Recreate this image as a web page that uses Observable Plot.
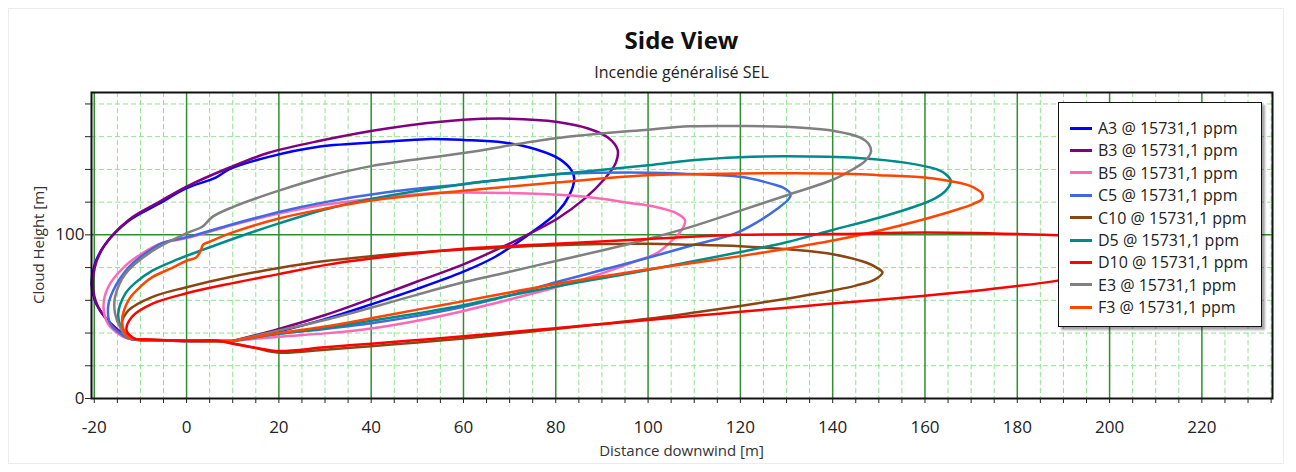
<!DOCTYPE html>
<html>
<head>
<meta charset="utf-8">
<script src="https://cdn.jsdelivr.net/npm/d3@7"></script>
<script src="https://cdn.jsdelivr.net/npm/@observablehq/plot@0.6"></script>
<style>
  html, body { margin: 0; padding: 0; background: #ffffff; }
  #wrap { position: relative; width: 1296px; height: 472px; font-family: "Open Sans", "Noto Sans", sans-serif; color: #222; overflow: hidden; }
  #panel { position: absolute; left: 8px; top: 8px; width: 1276px; height: 456px; border: 1px solid #ececec; box-sizing: border-box; }
  #chart { position: absolute; left: 0; top: 0; }
  .ttl { position: absolute; left: 91px; width: 1181px; text-align: center; white-space: nowrap; }
  #title { top: 26px; font-size: 24px; line-height: 28px; font-weight: 700; color: #111; }
  #subtitle { top: 62px; font-size: 16px; line-height: 20px; color: #222; }
  #xlabel { top: 440px; font-size: 15px; line-height: 20px; color: #333; }
  #ylabel { position: absolute; left: -62px; top: 235px; width: 200px; height: 20px; line-height: 20px; font-size: 15px; text-align: center; transform: rotate(-90deg); transform-origin: 50% 50%; color: #333; white-space: nowrap; }
  #legend { position: absolute; left: 1058px; top: 102px; width: 204px; height: 225px; box-sizing: border-box; border: 1.5px solid #111; background: #fff; box-shadow: 3px 3px 2px rgba(0,0,0,0.35); }
  .row { position: absolute; left: 0; height: 22px; line-height: 22px; font-size: 16px; color: #222; white-space: nowrap; }
  .sw { position: absolute; left: 11px; top: 9.5px; width: 22px; height: 3px; }
  .lt { position: absolute; left: 39px; top: 0; }
</style>
</head>
<body>
<div id="wrap">
  <div id="panel"></div>
  <div id="chart"></div>
  <div id="title" class="ttl">Side View</div>
  <div id="subtitle" class="ttl">Incendie généralisé SEL</div>
  <div id="xlabel" class="ttl">Distance downwind [m]</div>
  <div id="ylabel">Cloud Height [m]</div>
  <div id="legend"></div>
</div>
<script>
// ---- Data, [distance m, height m] ----
const seriesNames = ["A3", "B3", "B5", "C5", "C10", "D5", "D10", "E3", "F3"];
const seriesColors = ["#0000ff", "#800080", "#ff69b4", "#4169e1", "#8b4513", "#008b8b", "#ff0000", "#808080", "#ff4500"];
const legendSuffix = " @ 15731,1 ppm";

const A3 = [[10,35.2],[20,41],[30,48.5],[40,57.5],[50,67],[60,77.5],[66.5,86],[71,94],[76,104],[80.4,114],[82.9,124],[84,134],[83.5,139],[81,146],[76,152],[68.7,156.5],[60,158],[52,158.5],[43.4,157],[28.9,154],[17.6,147.5],[9.2,140],[6.3,135],[0,128.5],[-6,119],[-12.6,108.5],[-17.7,94],[-19.9,82],[-20.6,70],[-19.9,60],[-17.7,49.7],[-14.8,41.6],[-12.6,36.8],[-11,36],[0,35.2],[10,35.2]];
const B3 = [[10,35.2],[20,42.5],[30,51],[40,61],[50,71.5],[60,82],[68,92],[73.8,100],[80.4,110],[86.2,122],[90.5,134],[93,144],[93.4,152],[91.3,159.5],[87,165],[80.4,169],[70,171],[60,170.3],[43.4,165],[28.9,157.5],[17.6,150],[9.2,141],[0,129.5],[-6,120],[-12.6,109],[-17.9,93],[-19.9,80],[-20.2,66],[-19,55],[-16.5,46],[-13.5,39],[-12,36.5],[0,35.2],[10,35.2]];
const B5 = [[10,35.2],[20,37.8],[30,39.8],[40,42.8],[50,47.5],[60,53.5],[70,60.5],[80,68],[90,76.5],[97,83.5],[102,89],[105,96],[107.3,103],[108,109],[106,113.5],[101,117.5],[96,119.5],[90,122],[83.3,124],[70,125.6],[54,125.6],[43.4,123],[30,118.5],[20,113],[10,106],[0,98],[-5.3,95],[-10,88],[-13.3,81],[-17,68],[-18,56],[-17,45.6],[-14.5,39],[-13,37],[0,35.2],[10,35.2]];
const C5 = [[10,35.2],[20,39.5],[30,42.5],[40,46],[50,50.5],[60,56],[70,63],[80,71],[90,78.5],[100,86],[110,94],[118.6,100.5],[123.6,107.7],[128,116],[130.5,122],[130.9,125],[129.5,128.5],[127,131],[120,135.5],[109,137.2],[100,138],[80,137],[60,131],[43.4,126],[30,120],[20,114],[10,106.5],[0,98.5],[-5.3,95],[-10,86.5],[-12.6,80],[-15.9,66],[-17,56],[-16.5,45.6],[-14,39],[-12.8,37],[0,35.2],[10,35.2]];
const C10 = [[-11,36.2],[0,35.3],[7,35.2],[10,33.8],[15,30.8],[20,28],[30,29.8],[40,32],[50,34.2],[60,36.7],[70,39.5],[80,42.5],[90,45.5],[100,48.7],[110,52.5],[120,56.5],[130,61],[140,66],[145,69],[149,72.5],[150.8,77],[149.5,80],[147.5,82.8],[140.3,88],[130.9,91],[120,93],[109,94],[100,94.5],[80,93.6],[60,91],[40,87],[30,84],[20,79.7],[10,74.5],[0,68],[-7.5,62],[-12.6,53.8],[-14,45.6],[-13,39],[-11,36.2]];
const D5 = [[10,35.2],[20,39.5],[30,43],[40,47.5],[50,52],[60,57],[70,63],[80,68.5],[90,73.5],[100,78.5],[110,84],[120,89.5],[130,95.5],[140,103],[150,110.5],[158,117.5],[162,122],[164.5,127],[165.6,133],[164.5,137],[162.6,140],[156,144],[145.4,147],[130,148],[120,147.5],[109,145.5],[100,142.5],[80,137],[60,131],[40,122],[30,115.5],[20,107],[10,97.5],[2.7,90],[-2,85],[-7.5,78],[-11,71],[-13.3,64],[-14.8,52],[-14.2,43],[-12.8,37.5],[0,35.2],[10,35.2]];
const D10 = [[-11.1,36.2],[0,35.3],[7,35.2],[10,33.5],[15,31],[20,29],[30,31.3],[40,33.5],[50,35.7],[60,38],[70,40.5],[80,43],[90,45.5],[100,48],[110,50.5],[120,53],[130,55.5],[140,58],[150,60.3],[160,62.8],[170,65.5],[180,68.7],[190,72.5],[200,77.5],[208,83],[213,88],[215,92],[214,95],[210,97.5],[200,99],[188.8,99.8],[181.6,100.4],[160,101.4],[140,100.5],[120,100],[100,97.5],[80,94.5],[60,91.5],[40,85.5],[30,81.5],[20,76],[10,70.5],[0,64.3],[-7.5,57.8],[-11.9,49.7],[-13,41.6],[-11.1,36.2]];
const E3 = [[10,35.2],[20,41.5],[30,48],[40,55.5],[50,63.5],[60,71],[70,77.5],[80,84],[90,90.5],[100,97.5],[110,105.5],[120,114.8],[130.9,125],[140.3,134],[144,139.5],[147,145],[148.3,151],[147.8,155.5],[146,159.4],[140.3,163.5],[130,166],[120,166.5],[109,166.3],[100,164.3],[80,159],[60,150],[40,142],[30,135.5],[20,127],[10,117],[5.6,111],[3.4,105],[0,101],[-7.5,90],[-13.3,76],[-15.5,62],[-15.5,52],[-14.4,43.6],[-12.8,37.5],[0,35.2],[10,35.2]];
const F3 = [[10,35.2],[20,40],[30,44],[40,49],[50,54.3],[60,59.5],[70,64.8],[80,70],[90,74.5],[100,79],[110,83],[120,87],[130,91.5],[140,96.5],[150,102.5],[160,109.7],[167,115.5],[170.5,119],[172.4,122],[172.3,125.5],[170.5,129],[168.6,131],[164,133.5],[159.9,135],[150,136.5],[140.3,137.5],[120,137.5],[100,136.4],[80,132],[60,127],[40,121],[30,116],[20,110],[10,101.5],[5,95.8],[3.6,94],[3,90],[2,86],[0,84.2],[-3,80],[-7.5,74],[-10.5,67],[-12.6,60],[-14,47.7],[-13.5,41],[-12.6,37.5],[0,35.2],[10,35.2]];

// tick values
const xTicks = d3.range(-20, 236, 5);
const xLabeled = d3.range(-20, 221, 20);
const yTicks = d3.range(0, 181, 20);
const yLabeled = [0, 100];

// ---- Build table ----
const seriesPoints = {A3, B3, B5, C5, C10, D5, D10, E3, F3};
const drawOrder = ["A3", "B3", "B5", "C5", "C10", "D5", "E3", "F3", "D10"];
const table = drawOrder.flatMap(name => seriesPoints[name].map(([x, y], i) => ({name, x, y, i})));

const xMinor = xTicks.filter(v => v % 20 !== 0);
const yMinor = yTicks.filter(v => v !== 0 && v !== 100);

const chart = Plot.plot({
  width: 1296,
  height: 472,
  marginLeft: 91,
  marginRight: 24,
  marginTop: 92,
  marginBottom: 74,
  style: {fontFamily: "'Open Sans', 'Noto Sans', sans-serif", fontSize: "17px", color: "#222", background: "transparent"},
  x: {domain: [-20.6, 235.3]},
  y: {domain: [0, 187]},
  color: {domain: seriesNames, range: seriesColors},
  marks: [
    Plot.ruleX(xMinor, {stroke: "#8fe48f", strokeWidth: 1, strokeDasharray: "5,3"}),
    Plot.ruleY(yMinor, {stroke: "#8fe48f", strokeWidth: 1, strokeDasharray: "5,3"}),
    Plot.ruleX(xLabeled, {stroke: "#2f8f2f", strokeWidth: 1.5}),
    Plot.ruleY([100], {stroke: "#2f8f2f", strokeWidth: 1.5}),
    Plot.line(table, {x: "x", y: "y", z: "name", stroke: "name", strokeWidth: 2.5, curve: "catmull-rom", sort: null}),
    Plot.frame({stroke: "#111", strokeWidth: 2}),
    Plot.axisX(xTicks, {tickSize: 5, tickPadding: 17, tickFormat: d => (d % 20 === 0 && d <= 220) ? String(d) : "", stroke: "#222", fill: "#222", label: null}),
    Plot.axisY(yTicks, {tickSize: 6, tickPadding: 1, tickFormat: d => yLabeled.includes(d) ? String(d) : "", stroke: "#222", fill: "#222", label: null})
  ]
});
document.getElementById("chart").appendChild(chart);

// ---- Legend ----
const legend = document.getElementById("legend");
seriesNames.forEach((name, i) => {
  const row = document.createElement("div");
  row.className = "row";
  row.style.top = (14 + i * 22.4) + "px";
  row.style.width = "200px";
  const sw = document.createElement("div");
  sw.className = "sw";
  sw.style.background = seriesColors[i];
  const t = document.createElement("div");
  t.className = "lt";
  t.textContent = name + legendSuffix;
  row.appendChild(sw);
  row.appendChild(t);
  legend.appendChild(row);
});
</script>
</body>
</html>
